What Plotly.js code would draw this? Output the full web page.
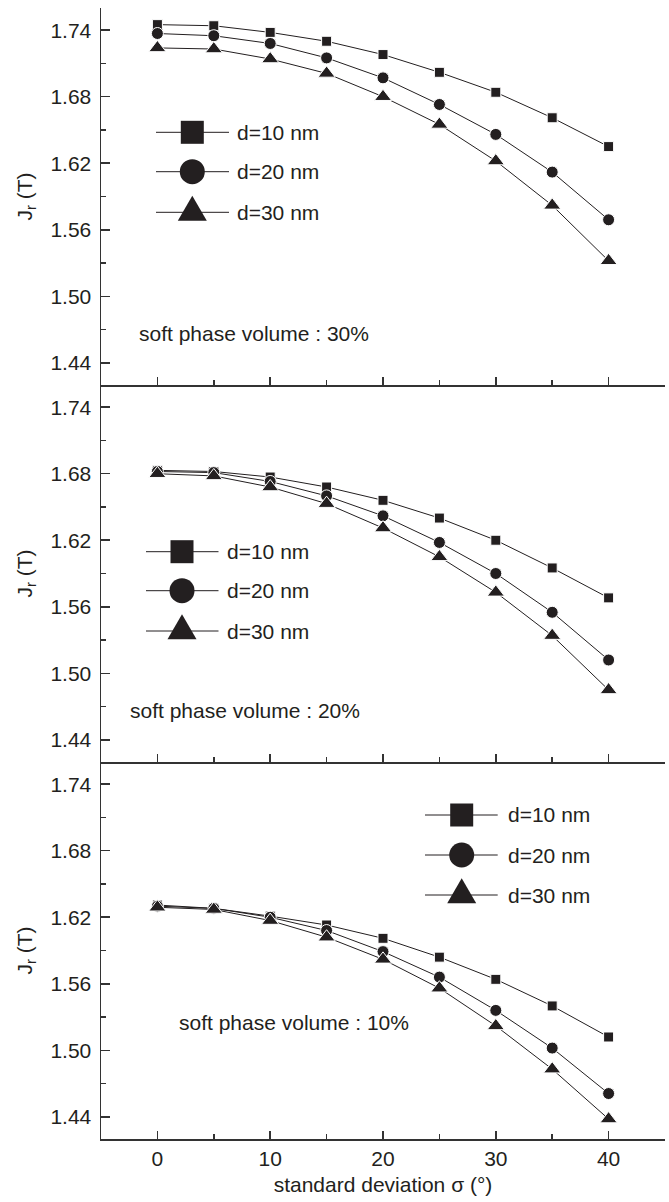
<!DOCTYPE html>
<html><head><meta charset="utf-8">
<script src="https://cdn.plot.ly/plotly-3.0.1.min.js"></script>
<style>html,body{margin:0;padding:0;background:#fff}#chart{width:669px;height:1202px}</style>
</head><body><div id="chart"></div>
<script>
// ---- data ----
const sigma = [0, 5, 10, 15, 20, 25, 30, 35, 40];
const seriesNames = ['d=10 nm', 'd=20 nm', 'd=30 nm'];
const panelLabels = ['soft phase volume : 30%', 'soft phase volume : 20%', 'soft phase volume : 10%'];
const yTickVals = [1.44, 1.50, 1.56, 1.62, 1.68, 1.74];
const xTickVals = [0, 10, 20, 30, 40];

const p30_d10 = [1.745, 1.744, 1.738, 1.730, 1.718, 1.702, 1.684, 1.661, 1.635];
const p30_d20 = [1.737, 1.735, 1.728, 1.715, 1.697, 1.673, 1.646, 1.612, 1.569];
const p30_d30 = [1.724, 1.723, 1.714, 1.701, 1.680, 1.655, 1.622, 1.582, 1.532];

const p20_d10 = [1.683, 1.682, 1.677, 1.668, 1.656, 1.640, 1.620, 1.595, 1.568];
const p20_d20 = [1.682, 1.681, 1.673, 1.660, 1.642, 1.618, 1.590, 1.555, 1.512];
const p20_d30 = [1.680, 1.678, 1.668, 1.653, 1.631, 1.605, 1.573, 1.534, 1.485];

const p10_d10 = [1.631, 1.628, 1.621, 1.613, 1.601, 1.584, 1.564, 1.540, 1.512];
const p10_d20 = [1.630, 1.628, 1.620, 1.608, 1.589, 1.566, 1.536, 1.502, 1.461];
const p10_d30 = [1.629, 1.627, 1.617, 1.602, 1.582, 1.556, 1.522, 1.483, 1.438];

// ---- layout geometry ----
const W = 669, H = 1202, ML = 101, MR = 4, MT = 8, MB = 63;
const PW = W - ML - MR, PH = H - MT - MB;
const X = px => (px - ML) / PW;
const Y = py => (H - MB - py) / PH;
const INK = '#231f20';
const AX = '#333333';
const FONT = '"Liberation Sans", Arial, Helvetica, sans-serif';

const panels = [
  {vals: [p30_d10, p30_d20, p30_d30], label: panelLabels[0], lab: [137, 333],
   leg: {cx: 192.3, l1: 156, l2: 229, tx: 235, rows: [132.3, 171.7, 212.3]}},
  {vals: [p20_d10, p20_d20, p20_d30], label: panelLabels[1], lab: [127.5, 710],
   leg: {cx: 182, l1: 146, l2: 218.5, tx: 225, rows: [551.7, 590.7, 631]}},
  {vals: [p10_d10, p10_d20, p10_d30], label: panelLabels[2], lab: [176.5, 1022],
   leg: {cx: 461.7, l1: 425, l2: 497.7, tx: 506, rows: [815, 855, 895]}}
];
const symbols = ['square', 'circle', 'triangle-up'];
const msizes = [10, 12, 15];

const traces = [];
panels.forEach((p, i) => {
  p.vals.forEach((v, k) => {
    traces.push({
      x: sigma, y: v, name: seriesNames[k], type: 'scatter', mode: 'lines+markers',
      xaxis: 'x' + (i + 1), yaxis: 'y' + (i + 1), showlegend: false,
      line: {color: INK, width: 1},
      marker: {symbol: symbols[k], size: msizes[k], color: INK, line: {color: '#ffffff', width: 1}}
    });
  });
});

const doms = [[2/3, 1], [1/3, 2/3], [0, 1/3]];
const layout = {
  width: W, height: H, margin: {l: ML, r: MR, t: MT, b: MB, pad: 0},
  paper_bgcolor: '#fff', plot_bgcolor: '#fff', showlegend: false,
  font: {family: FONT, size: 21, color: INK},
  shapes: [], annotations: []
};
const xbase = {
  range: [-5, 45], tickmode: 'array', tickvals: xTickVals, ticks: 'inside', ticklen: 8, tickwidth: 1.5,
  tickcolor: AX, showline: true, linecolor: AX, linewidth: 1.5, showgrid: false, zeroline: false,
  minor: {dtick: 5, tick0: 0, ticks: 'inside', ticklen: 5, tickwidth: 1.5, tickcolor: AX, showgrid: false},
  tickfont: {family: FONT, size: 21, color: INK}, fixedrange: true
};
const ybase = {
  range: [1.42, 1.76], tickmode: 'array', tickvals: yTickVals, tickformat: '.2f', ticks: 'inside', ticklen: 9, tickwidth: 1.5,
  tickcolor: AX, showline: true, linecolor: AX, linewidth: 1.5, showgrid: false, zeroline: false,
  minor: {dtick: 0.03, tick0: 1.44, ticks: 'inside', ticklen: 5, tickwidth: 1.5, tickcolor: AX, showgrid: false},
  tickfont: {family: FONT, size: 21, color: INK}, ticklabelstandoff: 4, fixedrange: true,
  title: {text: 'J<sub>r</sub> (T)', font: {family: FONT, size: 21, color: INK}, standoff: 12}
};
for (let i = 0; i < 3; i++) {
  const n = i + 1;
  layout['xaxis' + n] = Object.assign({}, xbase, {anchor: 'y' + n, showticklabels: i === 2});
  layout['yaxis' + n] = Object.assign({}, ybase, {anchor: 'x' + n, domain: doms[i]});
  // right frame with outward ticks
  layout['yaxis' + (n + 3)] = {
    overlaying: 'y' + n, side: 'right', anchor: 'x' + n, range: [1.42, 1.76],
    tick0: 1.44, dtick: 0.03, ticks: 'outside', ticklen: 4, tickwidth: 1.5, tickcolor: AX,
    showticklabels: false, showline: true, linecolor: AX, linewidth: 1.5, showgrid: false, zeroline: false, fixedrange: true
  };
}
layout.xaxis3.title = {text: 'standard deviation σ (°)', font: {family: FONT, size: 21, color: INK}, standoff: 8};
// top frame of the upper panel
layout.xaxis4 = {
  overlaying: 'x1', side: 'top', anchor: 'y1', range: [-5, 45], tick0: 0, dtick: 5,
  ticks: 'outside', ticklen: 4, tickwidth: 1.5, tickcolor: AX, showticklabels: false,
  showline: true, linecolor: AX, linewidth: 1.5, showgrid: false, zeroline: false, fixedrange: true
};

// legends and panel labels (drawn in paper coordinates)
panels.forEach(p => {
  const L = p.leg;
  L.rows.forEach((ry, k) => {
    layout.shapes.push({type: 'line', xref: 'paper', yref: 'paper', x0: X(L.l1), x1: X(L.l2), y0: Y(ry), y1: Y(ry),
      line: {color: INK, width: 1}});
    if (k === 0) {
      const s = 11.5;
      layout.shapes.push({type: 'rect', xref: 'paper', yref: 'paper', x0: X(L.cx - s), x1: X(L.cx + s),
        y0: Y(ry + s), y1: Y(ry - s), fillcolor: INK, line: {width: 0}});
    } else if (k === 1) {
      const r = 12.5;
      layout.shapes.push({type: 'circle', xref: 'paper', yref: 'paper', x0: X(L.cx - r), x1: X(L.cx + r),
        y0: Y(ry + r), y1: Y(ry - r), fillcolor: INK, line: {width: 0}});
    } else {
      const hw = 14.5, h = 25;
      const path = 'M' + X(L.cx - hw) + ',' + Y(ry + h / 3) + ' L' + X(L.cx + hw) + ',' + Y(ry + h / 3) +
        ' L' + X(L.cx) + ',' + Y(ry - 2 * h / 3) + ' Z';
      layout.shapes.push({type: 'path', xref: 'paper', yref: 'paper', path: path, fillcolor: INK, line: {width: 0}});
    }
    layout.annotations.push({xref: 'paper', yref: 'paper', x: X(L.tx), y: Y(ry), xanchor: 'left', yanchor: 'middle',
      text: seriesNames[k], showarrow: false, font: {family: FONT, size: 21, color: INK}});
  });
  layout.annotations.push({xref: 'paper', yref: 'paper', x: X(p.lab[0]), y: Y(p.lab[1]), xanchor: 'left', yanchor: 'middle',
    text: p.label, showarrow: false, font: {family: FONT, size: 21, color: INK}});
});

Plotly.newPlot('chart', traces, layout, {staticPlot: true, displayModeBar: false});
</script>
</body></html>
